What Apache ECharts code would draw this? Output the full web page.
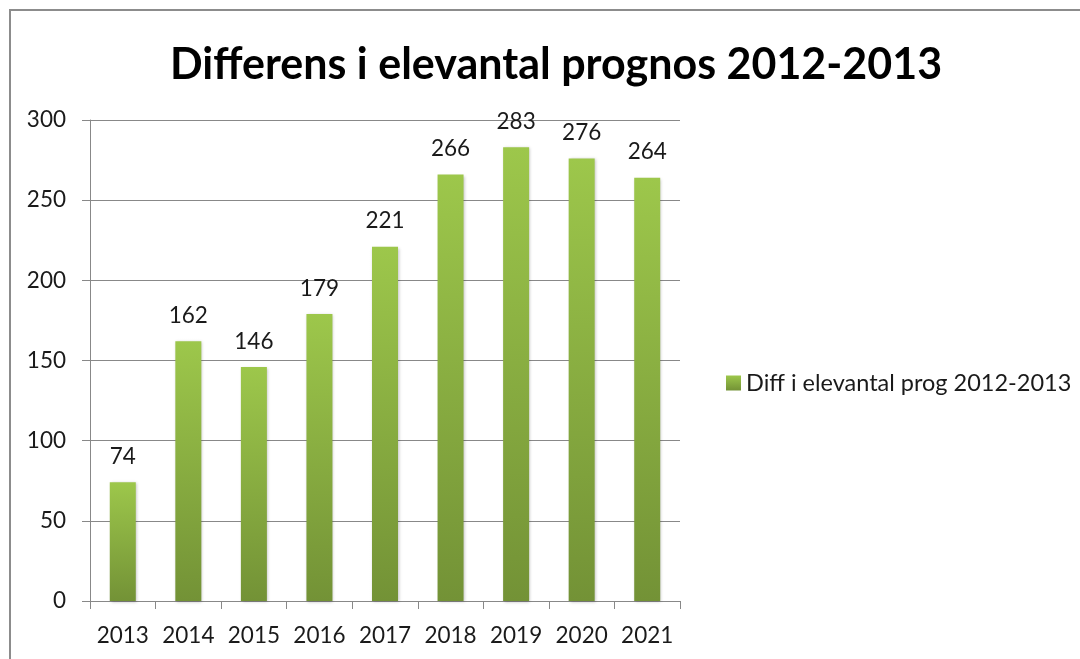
<!DOCTYPE html>
<html><head><meta charset="utf-8">
<script src="https://cdn.jsdelivr.net/npm/echarts@6/dist/echarts.min.js"></script>
<style>html,body{margin:0;padding:0;background:#fff}#c{width:1080px;height:659px}</style>
</head><body><div id="c"></div>
<script>
const categories = ['2013','2014','2015','2016','2017','2018','2019','2020','2021'];
const values = [74,162,146,179,221,266,283,276,264];
const seriesName = 'Diff i elevantal prog 2012-2013';
const titleText = 'Differens i elevantal prognos 2012-2013';
const chart = echarts.init(document.getElementById('c'));
const font = 'Lato, "Open Sans", sans-serif';
chart.setOption({
  backgroundColor:'#fff',
  animation:false,
  graphic:[{type:'rect',shape:{x:10,y:10,width:1200,height:800},style:{fill:'none',stroke:'#8c8c8c',lineWidth:2}}],
  title:{text:titleText,left:551,top:39,textAlign:'center',textStyle:{fontFamily:font,fontWeight:'bold',fontSize:43,color:'#000'}},
  legend:{data:[seriesName],left:721,top:366,orient:'vertical',itemWidth:15,itemHeight:15,itemGap:6,icon:'rect',textStyle:{fontFamily:font,fontSize:23.5,color:'#1a1a1a'}},
  grid:{left:90,right:400,top:120,bottom:58},
  xAxis:{type:'category',data:categories,
    axisLine:{lineStyle:{color:'#888',width:1}},
    axisTick:{show:true,length:8,lineStyle:{color:'#888'},alignWithLabel:false,interval:0},
    axisLabel:{interval:0,fontFamily:font,fontSize:22.5,color:'#1a1a1a',margin:23}},
  yAxis:{type:'value',min:0,max:300,interval:50,
    axisLine:{show:true,lineStyle:{color:'#888'}},
    axisTick:{show:true,length:8,lineStyle:{color:'#888'}},
    splitLine:{lineStyle:{color:'#888',width:1}},
    axisLabel:{fontFamily:font,fontSize:22.5,color:'#1a1a1a',margin:24}},
  series:[{name:seriesName,type:'bar',data:values,barWidth:26,
    itemStyle:{color:new echarts.graphic.LinearGradient(0,0,0,1,[{offset:0,color:'#9dc74b'},{offset:1,color:'#739236'}]),
      shadowColor:'rgba(0,0,0,0.25)',shadowBlur:3,shadowOffsetX:1,shadowOffsetY:1},
    label:{show:true,position:'top',distance:14,fontFamily:font,fontSize:22.5,color:'#1a1a1a'}}]
});
</script></body></html>
